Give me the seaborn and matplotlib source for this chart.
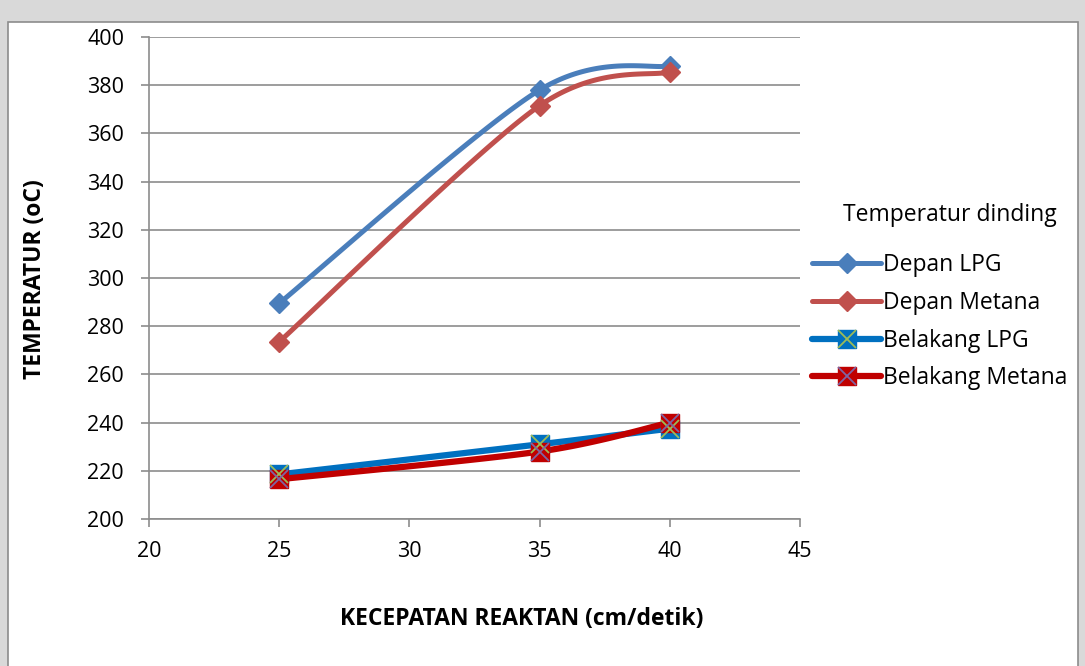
import numpy as np
import pandas as pd
import matplotlib
matplotlib.use("Agg")
import matplotlib.pyplot as plt
import seaborn as sns
from matplotlib.lines import Line2D
from matplotlib.patches import Rectangle

sns.set_theme(style="white")
plt.rcParams['font.family'] = ['Open Sans', 'DejaVu Sans']
plt.rcParams['text.color'] = 'black'
plt.rcParams['axes.labelcolor'] = 'black'

# ---- data ----
kecepatan = [25, 35, 40]
depan_lpg = [289.5, 378, 388]
depan_metana = [273.5, 371.5, 385.5]
belakang_lpg = [218.5, 231, 237.5]
belakang_metana = [216.5, 228, 240]
series_names = ["Depan LPG", "Depan Metana", "Belakang LPG", "Belakang Metana"]
x_ticks = [20, 25, 30, 35, 40, 45]
y_ticks = [200, 220, 240, 260, 280, 300, 320, 340, 360, 380, 400]

XMIN, XMAX, YMIN, YMAX = 20, 45, 200, 400


def smooth(xs, ys, n=60):
    # Catmull-Rom style Bezier smoothing in normalised axis space (like Excel "smoothed line")
    px = (np.asarray(xs, float) - XMIN) / (XMAX - XMIN) * 651
    py = (np.asarray(ys, float) - YMIN) / (YMAX - YMIN) * 482
    P = np.column_stack([px, py])
    P = np.vstack([P[0], P, P[-1]])
    out = []
    for i in range(1, len(P) - 2):
        p0, p1, p2, p3 = P[i - 1], P[i], P[i + 1], P[i + 2]
        m1 = (p2 - p0) / 6.0 * 0.9
        m2 = (p3 - p1) / 6.0 * 0.9
        b0, b1, b2, b3 = p1, p1 + m1, p2 - m2, p2
        t = np.linspace(0, 1, n)[:, None]
        c = ((1 - t) ** 3) * b0 + 3 * ((1 - t) ** 2) * t * b1 + 3 * (1 - t) * t ** 2 * b2 + t ** 3 * b3
        out.append(c)
    C = np.vstack(out)
    return C[:, 0] / 651 * (XMAX - XMIN) + XMIN, C[:, 1] / 482 * (YMAX - YMIN) + YMIN


fig = plt.figure(figsize=(10.85, 6.66), dpi=100)
fig.patch.set_facecolor("#d9d9d9")
fig.patches.append(Rectangle((8 / 1085, -0.01), (1078 - 8) / 1085, 1 - 22 / 666 + 0.01,
                             transform=fig.transFigure, facecolor="white",
                             edgecolor="#8c8c8c", linewidth=1.2, zorder=-5))

ax = fig.add_axes([149 / 1085, 1 - 519 / 666, 651 / 1085, 482 / 666])
ax.set_facecolor("none")
ax.set_zorder(2)

styles = [
    dict(color="#4a7ebb", lw=3.6, marker="D", ms=10, mfc="#4a7ebb", xc=None),
    dict(color="#c0504d", lw=3.6, marker="D", ms=10, mfc="#c0504d", xc=None),
    dict(color="#0070c0", lw=4.5, marker="s", ms=13, mfc="#0070c0", xc="#9bbb59"),
    dict(color="#c00000", lw=4.5, marker="s", ms=13, mfc="#c00000", xc="#8064a2"),
]
all_y = [depan_lpg, depan_metana, belakang_lpg, belakang_metana]

for name, ys, st in zip(series_names, all_y, styles):
    sx, sy = smooth(kecepatan, ys)
    df = pd.DataFrame({"x": sx, "y": sy})
    sns.lineplot(data=df, x="x", y="y", sort=False, ax=ax, color=st["color"],
                 linewidth=st["lw"], solid_capstyle="round", zorder=3)
    ax.plot(kecepatan, ys, linestyle="none", marker=st["marker"], ms=st["ms"],
            mfc=st["mfc"], mec=st["mfc"], zorder=4)
    if st["xc"]:
        ax.plot(kecepatan, ys, linestyle="none", marker="x", ms=st["ms"] * 0.95,
                mew=1.3, color=st["xc"], zorder=5)

ax.set_xlim(XMIN, XMAX)
ax.set_ylim(YMIN, YMAX)
ax.set_xticks(x_ticks)
ax.set_yticks(y_ticks)
ax.set_xticklabels([str(v) for v in x_ticks], fontsize=15.5)
ax.set_yticklabels([str(v) for v in y_ticks], fontsize=15.5)
ax.yaxis.grid(True, color="#8c8c8c", linewidth=1.2)
ax.xaxis.grid(False)
ax.set_axisbelow(True)
for s in ["top", "right"]:
    ax.spines[s].set_visible(False)
for s in ["left", "bottom"]:
    ax.spines[s].set_color("#8c8c8c")
    ax.spines[s].set_linewidth(1.2)
ax.tick_params(axis="both", which="major", direction="out", length=6, width=1.2,
               color="#8c8c8c", left=True, bottom=True, labelcolor="black")
ax.tick_params(axis="x", pad=10)
ax.tick_params(axis="y", pad=12)
ax.set_xlabel("")
ax.set_ylabel("")

fig.text(35 / 1085, 1 - 279 / 666, "TEMPERATUR (oC)", rotation=90, ha="center", va="center",
         fontsize=16.5, fontweight="bold")
fig.text(522 / 1085, 1 - 619 / 666, "KECEPATAN REAKTAN (cm/detik)", ha="center", va="center",
         fontsize=16.5, fontweight="bold")

handles = []
for name, st in zip(series_names, styles):
    h = Line2D([0], [0], color=st["color"], lw=st["lw"], marker=st["marker"],
               ms=st["ms"], mfc=st["mfc"], mec=st["mfc"], solid_capstyle="round")
    if st["xc"]:
        hx = Line2D([0], [0], linestyle="none", marker="x", ms=st["ms"] * 0.95,
                    mew=1.3, color=st["xc"])
        h = (h, hx)
    handles.append(h)

fig.text(950 / 1085, 1 - 215 / 666, "Temperatur dinding", ha="center", va="center",
         fontsize=16.5)
leg = fig.legend(handles=handles, labels=series_names,
                 loc="upper left", bbox_to_anchor=(803 / 1085, 1 - 244 / 666),
                 frameon=False, fontsize=16.5, handlelength=3.0,
                 handletextpad=0.1, labelspacing=0.6, borderaxespad=0)

fig.savefig("out.png", dpi=100, facecolor=fig.get_facecolor())
